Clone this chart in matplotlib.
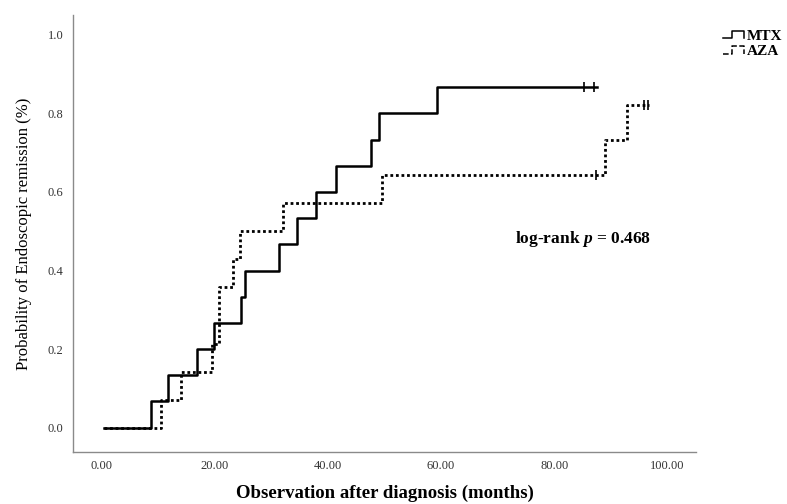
import numpy as np
import matplotlib
matplotlib.use('Agg')
import matplotlib.pyplot as plt
from matplotlib.legend_handler import HandlerBase
from matplotlib.lines import Line2D

# Kaplan-Meier step data
mtx_times = [0.5, 8.7, 11.7, 16.8, 19.8, 24.7, 25.3, 31.3, 34.6, 37.9, 41.5, 47.7, 49.1, 59.2, 87.6]
mtx_surv = [0.0, 0.067, 0.133, 0.2, 0.267, 0.333, 0.4, 0.467, 0.533, 0.6, 0.667, 0.733, 0.8, 0.867, 0.867]
mtx_censor = [85.3, 87.1]

aza_times = [0.5, 10.6, 14.1, 19.6, 20.7, 23.2, 24.5, 32.0, 49.6, 89.0, 92.9, 96.8]
aza_surv = [0.0, 0.071, 0.143, 0.214, 0.357, 0.429, 0.5, 0.571, 0.643, 0.732, 0.821, 0.821]
aza_censor = [87.3, 95.9, 96.5]

x_ticks = [0, 20, 40, 60, 80, 100]
y_ticks = [0.0, 0.2, 0.4, 0.6, 0.8, 1.0]


def level_at(times, surv, t):
    idx = np.searchsorted(times, t, side='right') - 1
    return surv[idx]


class StepHandler(HandlerBase):
    # legend sample drawn as a little step, like the SPSS output
    def create_artists(self, legend, orig_handle, xdescent, ydescent,
                       width, height, fontsize, trans):
        x0, x1 = -xdescent, -xdescent + width
        xs = [x0, x0 + 0.45 * width, x0 + 0.45 * width, x1, x1]
        ys = [0.1 * height, 0.1 * height, 0.8 * height, 0.8 * height, 0.1 * height]
        ln = Line2D(xs, ys, color=orig_handle.get_color(),
                    linestyle=orig_handle.get_linestyle(), linewidth=1.1,
                    transform=trans)
        return [ln]


plt.rcParams['font.family'] = ['Liberation Serif', 'DejaVu Serif']
plt.rcParams['mathtext.fontset'] = 'custom'
plt.rcParams['mathtext.rm'] = 'Liberation Serif'
plt.rcParams['mathtext.bf'] = 'Liberation Serif:bold'
plt.rcParams['mathtext.bfit'] = 'Liberation Serif:italic:bold'

fig = plt.figure(figsize=(7.87, 5.04), dpi=100)
ax = fig.add_axes([0.093, 0.103, 0.791, 0.867])

l1, = ax.step(mtx_times, mtx_surv, where='post', color='black', linewidth=1.8, label='MTX')
l2, = ax.step(aza_times, aza_surv, where='post', color='black', linewidth=2.0,
              linestyle=(0, (1, 1)), label='AZA')

ax.plot(mtx_censor, [level_at(mtx_times, mtx_surv, t) for t in mtx_censor],
        linestyle='none', marker='|', markersize=7, color='black', markeredgewidth=1.2)
ax.plot(aza_censor, [level_at(aza_times, aza_surv, t) for t in aza_censor],
        linestyle='none', marker='|', markersize=7, color='black', markeredgewidth=1.2)

ax.set_xlim(-5, 105)
ax.set_ylim(-0.062, 1.05)
ax.set_xticks(x_ticks)
ax.set_xticklabels([f'{v:.2f}' for v in x_ticks])
ax.set_yticks(y_ticks)
ax.set_yticklabels([f'{v:.1f}' for v in y_ticks])
ax.tick_params(length=0, labelsize=9, colors='#333333')
ax.tick_params(axis='x', pad=6)
ax.tick_params(axis='y', pad=7)

ax.spines['top'].set_visible(False)
ax.spines['right'].set_visible(False)
for s in ['left', 'bottom']:
    ax.spines[s].set_color('#8a8a8a')
    ax.spines[s].set_linewidth(1.0)

ax.set_xlabel('Observation after diagnosis (months)', fontsize=13.5,
              fontweight='semibold', labelpad=9)
ax.set_ylabel('Probability of Endoscopic remission (%)', fontsize=12, labelpad=11)

ax.text(85, 0.48, r'log-rank $\mathbfit{p}$ = 0.468', ha='center', va='center',
        fontsize=12.5, fontweight='bold')

fig.legend(handles=[l1, l2], labels=['MTX', 'AZA'], loc='upper right',
           bbox_to_anchor=(1.012, 0.97), frameon=False, handler_map={Line2D: StepHandler()},
           handlelength=1.4, handletextpad=0.2, labelspacing=0.1,
           prop={'weight': 'bold', 'size': 11})

fig.savefig('out.png', dpi=100)
